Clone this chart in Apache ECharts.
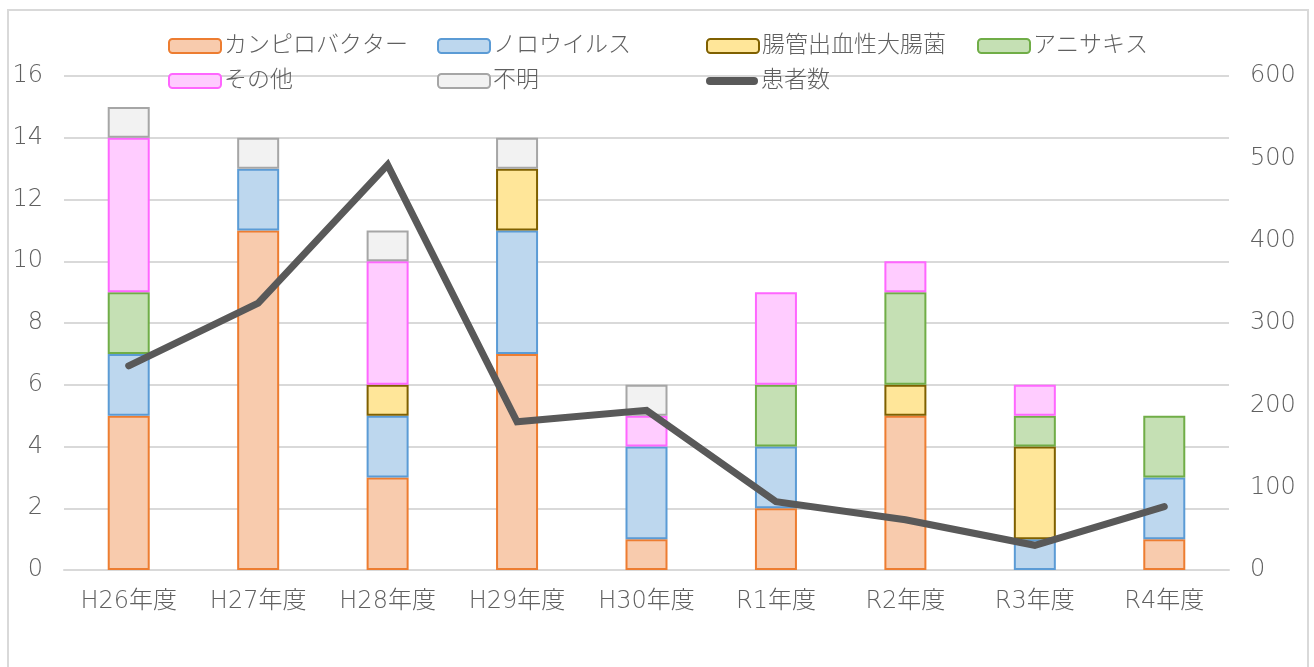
<!DOCTYPE html>
<html>
<head>
<meta charset="utf-8">
<script src="https://cdn.jsdelivr.net/npm/echarts@6/dist/echarts.min.js"></script>
<style>
  html, body { margin: 0; padding: 0; background: #fff; }
  #chart { width: 1314px; height: 667px; }
</style>
</head>
<body>
<div id="chart"></div>
<script>
// 年度ごとの食中毒件数（病因物質別）と患者数
const categories = ['H26年度', 'H27年度', 'H28年度', 'H29年度', 'H30年度', 'R1年度', 'R2年度', 'R3年度', 'R4年度'];
const campylobacter = [5, 11, 3, 7, 1, 2, 5, 0, 1];
const norovirus = [2, 2, 2, 4, 3, 2, 0, 1, 2];
const ehec = [0, 0, 1, 2, 0, 0, 1, 3, 0];
const anisakis = [2, 0, 0, 0, 0, 2, 3, 1, 2];
const others = [5, 0, 4, 0, 1, 3, 1, 1, 0];
const unknown = [1, 1, 1, 1, 1, 0, 0, 0, 0];
const patients = [248, 324, 492, 180, 194, 83, 61, 30, 77];

const FONT = "'DejaVu Sans', 'Noto Sans CJK JP', sans-serif";
const TEXT = '#606060';

const chartDom = document.getElementById('chart');
const myChart = echarts.init(chartDom);

const barSeries = [
    { name: 'カンピロバクター', data: campylobacter, fill: '#F8CBAD', border: '#ED7D31' },
    { name: 'ノロウイルス', data: norovirus, fill: '#BDD7EE', border: '#5B9BD5' },
    { name: '腸管出血性大腸菌', data: ehec, fill: '#FFE699', border: '#7F6000' },
    { name: 'アニサキス', data: anisakis, fill: '#C5E0B4', border: '#70AD47' },
    { name: 'その他', data: others, fill: '#FFCCFF', border: '#FF66FF' },
    { name: '不明', data: unknown, fill: '#F2F2F2', border: '#A6A6A6' }
].map(s => ({
    name: s.name,
    type: 'bar',
    stack: 'total',
    barWidth: 42,
    // 0件は描かない（枠線だけ残らないように）
    data: s.data.map(v => (v === 0 ? null : v)),
    itemStyle: { color: s.fill, borderColor: s.border, borderWidth: 2 }
}));

// legend layout: [name, left, top]
const legendPos = [
    ['カンピロバクター', 168, 34],
    ['ノロウイルス', 437, 34],
    ['腸管出血性大腸菌', 706, 34],
    ['アニサキス', 977, 34],
    ['その他', 168, 69],
    ['不明', 437, 69],
    ['患者数', 706, 69]
];

const legends = legendPos.map(([name, left, top]) => {
    const lg = {
        left: left,
        top: top,
        padding: 0,
        itemWidth: 52,
        itemHeight: 14,
        itemGap: 0,
        selectedMode: false,
        textStyle: { color: TEXT, fontSize: 23, fontWeight: 300, fontFamily: FONT, padding: [0, 0, 0, -2], lineHeight: 24 },
        data: [name]
    };
    if (name === '患者数') {
        lg.itemHeight = 8;
        lg.data = [{
            name: name,
            icon: 'path://M4,0 H48 A4,4 0 0 1 48,8 H4 A4,4 0 0 1 4,0 Z',
            itemStyle: { color: '#595959', borderWidth: 0 }
        }];
    }
    return lg;
});

const labelStyle = { color: TEXT, fontSize: 24, fontWeight: 300, fontFamily: FONT };

const option = {
    backgroundColor: '#fff',
    animation: false,
    graphic: [{
        type: 'rect',
        shape: { x: 8, y: 10, width: 1300, height: 700 },
        style: { fill: 'none', stroke: '#D9D9D9', lineWidth: 2 },
        silent: true
    }],
    legend: legends,
    grid: { left: 64, right: 85, top: 76, bottom: 97 },
    xAxis: {
        type: 'category',
        data: categories,
        axisTick: { show: false },
        axisLine: { lineStyle: { color: '#D9D9D9', width: 2 } },
        axisLabel: { ...labelStyle, margin: 20 }
    },
    yAxis: [{
        type: 'value',
        min: 0,
        max: 16,
        interval: 2,
        axisLine: { show: false },
        axisTick: { show: false },
        splitLine: { lineStyle: { color: '#D9D9D9', width: 2 } },
        axisLabel: { ...labelStyle, margin: 21 }
    }, {
        type: 'value',
        min: 0,
        max: 600,
        interval: 100,
        axisLine: { show: false },
        axisTick: { show: false },
        splitLine: { show: false },
        axisLabel: { ...labelStyle, margin: 21 }
    }],
    series: [
        ...barSeries,
        {
            name: '患者数',
            type: 'line',
            yAxisIndex: 1,
            data: patients,
            showSymbol: false,
            symbol: 'none',
            z: 5,
            color: '#595959',
            lineStyle: { color: '#595959', width: 7, cap: 'round', join: 'miter' }
        }
    ]
};

option && myChart.setOption(option);
</script>
</body>
</html>
